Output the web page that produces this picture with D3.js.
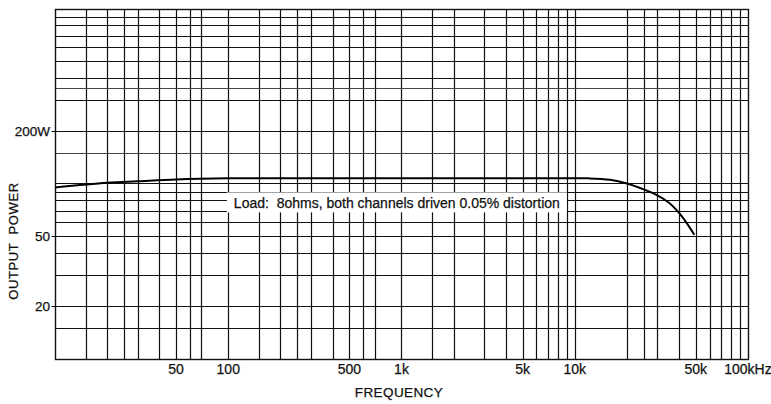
<!DOCTYPE html>
<html lang="en">
<head>
<meta charset="utf-8">
<title>Output power vs frequency</title>
<script src="https://d3js.org/d3.v7.min.js"></script>
<style>
    body{
        margin: 0;
        background-color: white;
    }
    svg{
        display: block;
    }
    text{
        font-family: "Liberation Sans", Arial, Helvetica, sans-serif;
        fill: #111;
        stroke: #111;
        stroke-width: 0.25px;
    }
</style>
</head>
<body>
<div id="chart"></div>
<script>

// curve (Hz, W)
var freq  = [10, 20, 30, 50, 100, 1000, 5000, 12000, 16000, 20000, 25000, 30000, 35000, 40000, 44000, 49000];
var power = [95, 101, 103, 105.5, 107, 107, 107, 107, 105, 100, 92.5, 85.5, 77.7, 68, 60, 51];

// grid lines of the printed chart paper
var xGrid = [15, 20, 25, 30, 40, 50, 60, 70,
             150, 200, 250, 300, 400, 500, 600, 700, 1000,
             1500, 2000, 3000, 4000, 5000, 6000, 7000, 8000, 9000, 10000,
             20000, 25000, 30000, 40000, 50000, 60000, 70000, 80000, 90000, 100];
var yGrid = [15, 20, 30, 40, 50, 60, 70, 80, 90, 100, 150, 200, 300, 350, 400, 500, 600, 700, 800, 900];

var xLabelValues = [50, 100, 500, 1000, 5000, 10000, 50000, 100000];
var xLabelTexts  = ["50", "100", "500", "1k", "5k", "10k", "50k", "100kHz"];
var yLabelValues = [200, 50, 20];
var yLabelTexts  = ["200W", "50", "20"];

var width = 771, height = 404;
var plotLeft = 55, plotRight = 748, plotTop = 8.5, plotBottom = 358.5;

var svg = d3.select("#chart").append("svg")
    .attr("width", width)
    .attr("height", height);

var x = d3.scaleLog().domain([10, 100000]).range([plotLeft, plotRight]);
var y = d3.scaleLog().domain([10, 1000]).range([plotBottom, plotTop]);

var snap = function(v){ return Math.round(v) + 0.5; };

// grid
var grid = svg.append("g")
    .attr("stroke", "#111")
    .attr("stroke-width", 1.2);

grid.selectAll("line.vx")
    .data(xGrid)
    .enter().append("line")
    .attr("class", "vx")
    .attr("x1", d => snap(x(d))).attr("x2", d => snap(x(d)))
    .attr("y1", snap(y(1000))).attr("y2", snap(y(10)));

grid.selectAll("line.hy")
    .data(yGrid)
    .enter().append("line")
    .attr("class", "hy")
    .attr("x1", d => yLabelValues.indexOf(d) >= 0 ? snap(x(10)) - 4 : snap(x(10)))
    .attr("x2", snap(x(100000)))
    .attr("y1", d => snap(y(d))).attr("y2", d => snap(y(d)))
    .attr("stroke", d => d % 100 === 0 || d < 100 ? "#111" : "#444");

// frame
grid.append("rect")
    .attr("x", snap(x(10)))
    .attr("y", snap(y(1000)))
    .attr("width", Math.round(x(100000)) - Math.round(x(10)))
    .attr("height", Math.round(y(10)) - Math.round(y(1000)))
    .attr("fill", "none")
    .attr("stroke-width", 1.4);

// label box for the load note
var noteF = 940, noteP = 78;
svg.append("rect")
    .attr("x", x(noteF) - 170)
    .attr("y", y(noteP) - 10)
    .attr("width", 340)
    .attr("height", 20)
    .attr("fill", "white");

svg.append("text")
    .attr("x", x(noteF) - 163)
    .attr("y", y(noteP) + 5.5)
    .attr("textLength", 326)
    .attr("lengthAdjust", "spacingAndGlyphs")
    .style("white-space", "pre")
    .style("font-size", "14px")
    .text("Load:  8ohms, both channels driven 0.05% distortion");

// curve
var line = d3.line()
    .x(d => x(d[0]))
    .y(d => y(d[1]))
    .curve(d3.curveCatmullRom.alpha(0.5));

svg.append("path")
    .datum(d3.zip(freq, power))
    .attr("d", line)
    .attr("fill", "none")
    .attr("stroke", "#000")
    .attr("stroke-width", 2);

// tick labels
svg.selectAll("text.xl")
    .data(xLabelValues)
    .enter().append("text")
    .attr("class", "xl")
    .attr("x", d => x(d))
    .attr("y", 374)
    .attr("text-anchor", "middle")
    .style("font-size", "14px")
    .text((d, i) => xLabelTexts[i]);

svg.selectAll("text.yl")
    .data(yLabelValues)
    .enter().append("text")
    .attr("class", "yl")
    .attr("x", 50)
    .attr("y", d => y(d) + 5)
    .attr("text-anchor", "end")
    .style("font-size", "13.5px")
    .text((d, i) => yLabelTexts[i]);

// axis titles
svg.append("text")
    .attr("x", 399)
    .attr("y", 397)
    .attr("text-anchor", "middle")
    .style("font-size", "13.5px")
    .style("letter-spacing", "0.4px")
    .text("FREQUENCY");

svg.append("text")
    .attr("transform", "translate(18,241) rotate(-90)")
    .attr("text-anchor", "middle")
    .style("font-size", "13px")
    .style("letter-spacing", "0.6px")
    .style("white-space", "pre")
    .text("OUTPUT  POWER");

</script>
</body>
</html>
